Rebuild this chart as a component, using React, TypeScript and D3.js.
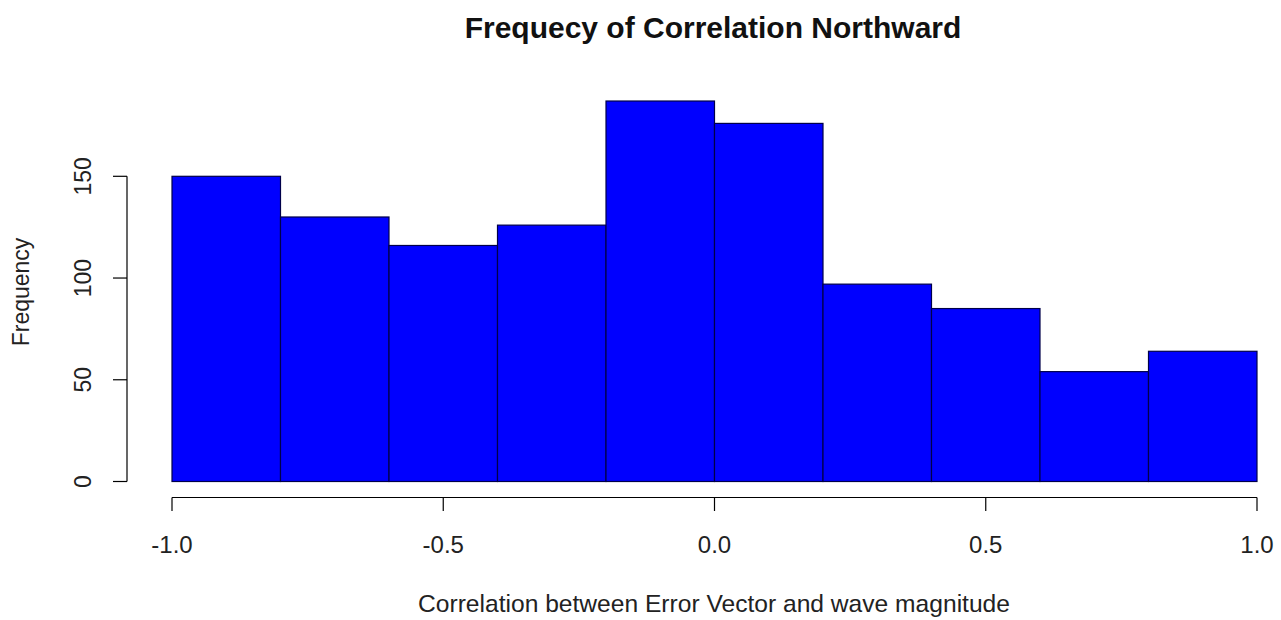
import React from "react";
import * as d3 from "d3";

const binEdges = [-1.0, -0.8, -0.6, -0.4, -0.2, 0.0, 0.2, 0.4, 0.6, 0.8, 1.0];
const counts = [150, 130, 116, 126, 187, 176, 97, 85, 54, 64];
const xTicks = [-1.0, -0.5, 0.0, 0.5, 1.0];
const yTicks = [0, 50, 100, 150];
const title = "Frequecy of Correlation Northward";
const xLabel = "Correlation between Error Vector and wave magnitude";
const yLabel = "Frequency";

export default function App() {
  const W = 1281, H = 620;
  const x = d3.scaleLinear().domain([-1, 1]).range([172, 1257]);
  const y = d3.scaleLinear().domain([0, 150]).range([481.5, 176.3]);
  const font = "'Liberation Sans', Arial, sans-serif";
  return (
    <svg width={W} height={H} style={{ position: "absolute", left: 0, top: 0, background: "#fff" }} fontFamily={font}>
      <text x={713} y={38} textAnchor="middle" fontWeight="bold" fontSize={30} fill="#111">{title}</text>
      {counts.map((c, i) => (
        <rect key={i} x={x(binEdges[i])} y={y(c)} width={x(binEdges[i + 1]) - x(binEdges[i])} height={y(0) - y(c)}
          fill="#0000ff" stroke="#00004a" strokeWidth={1.2} />
      ))}
      {/* y axis */}
      <line x1={127} x2={127} y1={y(150)} y2={y(0)} stroke="#000" strokeWidth={1.2} />
      {yTicks.map((t) => (
        <g key={t}>
          <line x1={113} x2={127} y1={y(t)} y2={y(t)} stroke="#000" strokeWidth={1.2} />
          <text transform={`translate(${91},${y(t)}) rotate(-90)`} textAnchor="middle" fontSize={23} fill="#222">{t}</text>
        </g>
      ))}
      {/* x axis */}
      <line x1={x(-1)} x2={x(1)} y1={497.5} y2={497.5} stroke="#000" strokeWidth={1.2} />
      {xTicks.map((t) => (
        <g key={t}>
          <line x1={x(t)} x2={x(t)} y1={497.5} y2={511} stroke="#000" strokeWidth={1.2} />
          <text x={x(t)} y={553} textAnchor="middle" fontSize={24} fill="#222">{t.toFixed(1)}</text>
        </g>
      ))}
      <text x={714} y={612} textAnchor="middle" fontSize={24.6} fill="#222">{xLabel}</text>
      <text transform={`translate(${29},${292}) rotate(-90)`} textAnchor="middle" fontSize={23} fill="#222">{yLabel}</text>
    </svg>
  );
}
